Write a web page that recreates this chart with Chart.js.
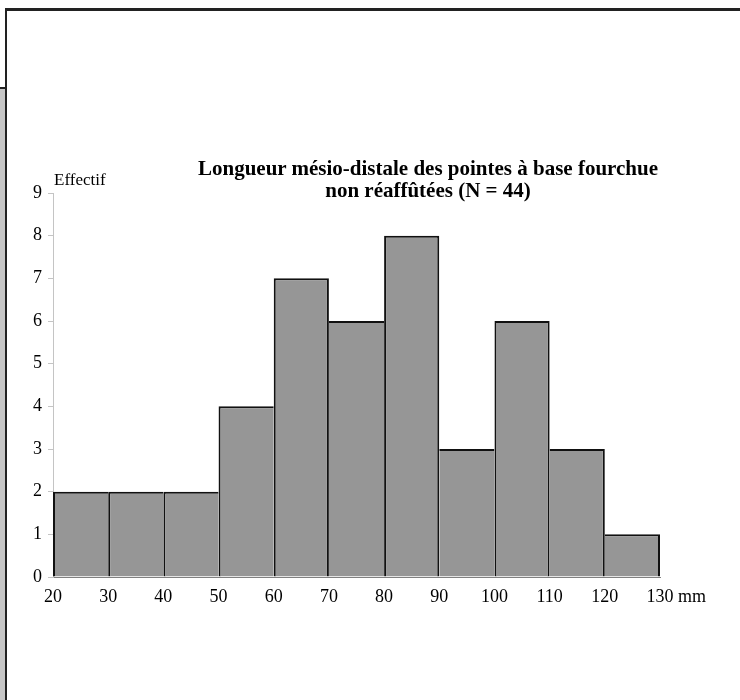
<!DOCTYPE html>
<html>
<head>
<meta charset="utf-8">
<script src="https://cdn.jsdelivr.net/npm/chart.js@4.4.1/dist/chart.umd.min.js"></script>
<style>
  html, body { margin: 0; padding: 0; background: #fff; }
  #page { position: relative; width: 740px; height: 700px; overflow: hidden; font-family: 'Liberation Serif', 'Times New Roman', serif; }
  #chartBox { position: absolute; left: 0; top: 0; width: 740px; height: 700px; }
  .frame { position: absolute; background: #222; }
  #strip { position: absolute; left: 0; top: 88px; width: 5px; height: 612px; background: #c6c6c6; }
  #title { position: absolute; left: 178px; top: 157px; width: 500px; text-align: center; font-weight: bold; font-size: 21px; line-height: 22px; color: #000; }
  #yLabel { position: absolute; left: 54px; top: 170px; font-size: 17px; color: #000; }
  #unit { position: absolute; left: 678px; top: 586px; font-size: 18px; color: #000; }
</style>
</head>
<body>
<div id="page">
  <div id="strip"></div>
  <div class="frame" style="left:5px; top:8px; width:735px; height:3px;"></div>
  <div class="frame" style="left:5px; top:8px; width:2px; height:692px;"></div>
  <div class="frame" style="left:0; top:87px; width:6px; height:2px;"></div>
  <div id="chartBox"><canvas id="histChart"></canvas></div>
  <div id="title">Longueur mésio-distale des pointes à base fourchue<br>non réaffûtées (N = 44)</div>
  <div id="yLabel">Effectif</div>
  <div id="unit">mm</div>
</div>
<script>
/* -------------------------------------------------------
   DATA – class lower bounds (mm) and counts per 10 mm class
------------------------------------------------------- */
const binStarts = [20, 30, 40, 50, 60, 70, 80, 90, 100, 110, 120];
const binWidth  = 10;
const counts    = [2, 2, 2, 4, 7, 6, 8, 3, 6, 3, 1];
const yTicks    = [0, 1, 2, 3, 4, 5, 6, 7, 8, 9];

// Shared edges between neighbouring bars are drawn once, by the taller bar
function edgeWidths(ctx) {
  const i = ctx.dataIndex;
  const h = counts[i];
  const prev = i > 0 ? counts[i - 1] : -1;
  const next = i < counts.length - 1 ? counts[i + 1] : -1;
  return {
    top: 2,
    left: prev <= h ? 2 : 0,
    right: next < h ? 2 : 0,
    bottom: 0
  };
}

function buildHistogram() {
  const canvas = document.getElementById('histChart');
  if (!canvas) return;

  const points = binStarts.map((s, i) => ({ x: s + binWidth / 2, y: counts[i] }));
  const font = { size: 18, family: "'Liberation Serif', 'Times New Roman', serif" };

  new Chart(canvas.getContext('2d'), {
    type: 'bar',
    data: {
      datasets: [{
        data: points,
        backgroundColor: '#969696',
        borderColor: '#111',
        borderWidth: edgeWidths,
        borderSkipped: false,
        barPercentage: 1,
        categoryPercentage: 1,
        inflateAmount: 0,
      }]
    },
    options: {
      responsive: true,
      maintainAspectRatio: false,
      animation: false,
      layout: { padding: { left: 0, right: 80, top: 193, bottom: 83 } },
      plugins: {
        legend: { display: false },
        tooltip: { enabled: false },
        title: { display: false }
      },
      scales: {
        x: {
          type: 'linear',
          min: binStarts[0],
          max: binStarts[binStarts.length - 1] + binWidth,
          offset: false,
          grid: { display: true, offset: false, drawOnChartArea: false, drawTicks: false },
          border: { color: '#808080', width: 1 },
          ticks: { stepSize: binWidth, color: '#000', font, padding: 9, maxRotation: 0, autoSkip: false },
          afterFit: s => { s.height = 40; }
        },
        y: {
          min: yTicks[0],
          max: yTicks[yTicks.length - 1],
          grid: { drawOnChartArea: false, tickLength: 5, color: '#c4c4c4' },
          border: { color: '#c4c4c4', width: 1 },
          ticks: { stepSize: 1, color: '#000', font, padding: 6 },
          afterFit: s => { s.width = 53; }
        }
      }
    }
  });
}

window.addEventListener('load', buildHistogram);
</script>
</body>
</html>
